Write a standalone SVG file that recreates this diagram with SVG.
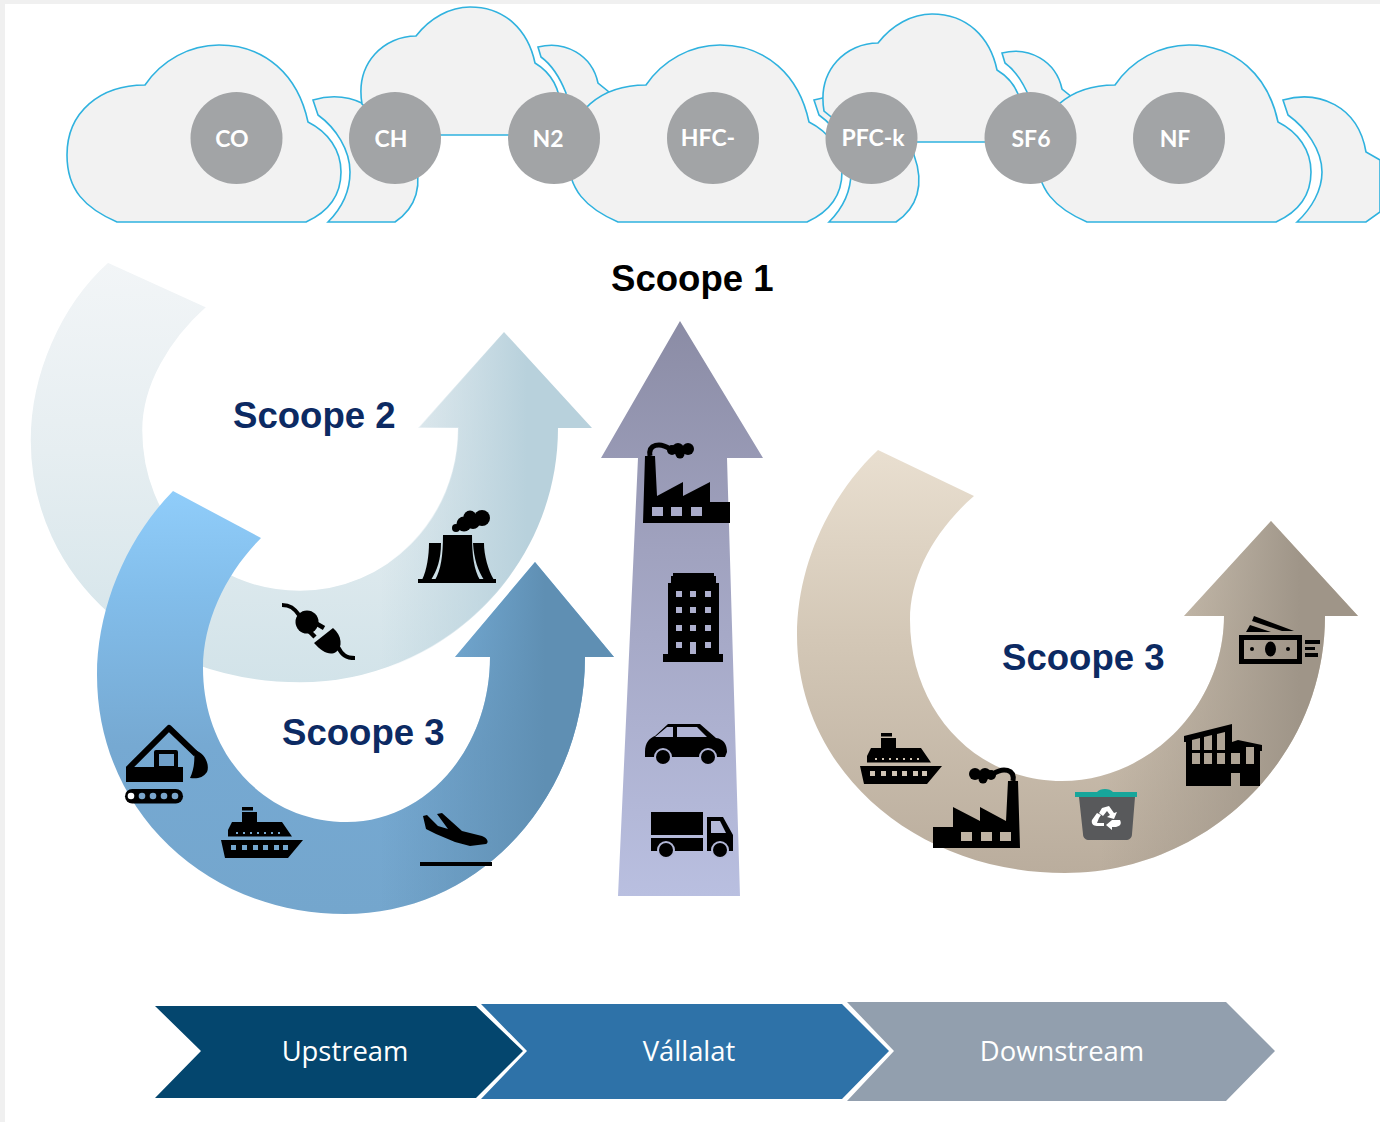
<svg xmlns="http://www.w3.org/2000/svg" width="1380" height="1122" viewBox="0 0 1380 1122">
<style>
.cloud{fill:#f2f2f2;stroke:#2fb2df;stroke-width:1.6}
.gas{fill:#a2a4a6}
.gast{fill:#fff;font:700 23px Lato,"Liberation Sans",sans-serif;text-anchor:middle}
.title{font:700 36.6px "Liberation Sans",Arial,sans-serif;fill:#0c2a63}
.step{fill:#fff;font:400 27.4px "Open Sans","Liberation Sans",sans-serif;text-anchor:middle}
.i{fill:#000}
</style>
<defs>
<path id="bigcloud" d="M117 222C85 208 67 190 67 155C67 112 100 85 145 85C162 60 190 45 219 45C265 45 298 75 308 122C328 132 341 150 341 172C341 195 328 212 306 222Z"/>
<path id="crescent" d="M313 100C330 95 348 96 364 104C395 110 413 135 413 155C424 185 416 208 395 222L328 222C342 208 350 190 350 172C350 150 336 128 318 115Z"/>
<path id="topcloud" d="M362 104C355 62 385 36 416 36C430 18 450 7 470 7C505 7 528 30 535 63C550 72 560 88 561 110L540 135L400 135Z"/>
<path id="crescent2" d="M538 47C565 40 592 55 598 83L609 92L600 135L566 110L566 93C560 78 552 65 541 57Z"/>
<path id="arc2" d="M108 262C60 305 30 375 30 440C30 580 150 683 300 683C440 683 558 570 558 428H592L504 332L418 428H458C458 520 385 590 300 590C210 590 143 520 143 430C143 385 170 340 207 307Z"/>
<path id="arc3a" d="M173 491C125 540 97 610 97 675C97 810 205 914 345 914C478 914 585 800 585 657H614L535 562L455 657H490C490 750 425 822 347 822C265 822 203 755 203 668C203 620 227 572 261 538Z"/>
<path id="arc3b" d="M878 450C830 495 797 565 797 635C797 770 915 873 1065 873C1205 873 1325 760 1325 616H1358L1271 521L1184 616H1224C1224 705 1150 781 1062 781C975 781 910 710 910 620C910 575 935 530 974 496Z"/>
<linearGradient id="g2v" gradientUnits="userSpaceOnUse" x1="0" y1="262" x2="0" y2="683"><stop offset="0" stop-color="#f2f5f7"/><stop offset=".45" stop-color="#e6eef1"/><stop offset="1" stop-color="#d2e3e9"/></linearGradient>
<linearGradient id="g2h" gradientUnits="userSpaceOnUse" x1="380" y1="0" x2="590" y2="0"><stop offset="0" stop-color="#b8d1dc" stop-opacity="0"/><stop offset=".7" stop-color="#b8d1dc"/></linearGradient>
<linearGradient id="g3v" gradientUnits="userSpaceOnUse" x1="0" y1="491" x2="0" y2="914"><stop offset="0" stop-color="#90cdfa"/><stop offset=".25" stop-color="#82bdea"/><stop offset=".6" stop-color="#76a9d2"/><stop offset="1" stop-color="#74a6cd"/></linearGradient>
<linearGradient id="g3h" gradientUnits="userSpaceOnUse" x1="380" y1="0" x2="600" y2="0"><stop offset="0" stop-color="#5f8fb3" stop-opacity="0"/><stop offset=".75" stop-color="#5f8fb3"/></linearGradient>
<linearGradient id="g1" x1="0" y1="0" x2="0" y2="1"><stop offset="0" stop-color="#8b8ca5"/><stop offset=".4" stop-color="#a0a2bf"/><stop offset="1" stop-color="#b9bfe0"/></linearGradient>
<linearGradient id="gbv" gradientUnits="userSpaceOnUse" x1="0" y1="450" x2="0" y2="873"><stop offset="0" stop-color="#e9dfd0"/><stop offset=".45" stop-color="#d3c7b6"/><stop offset="1" stop-color="#baad9d"/></linearGradient>
<linearGradient id="gbh" gradientUnits="userSpaceOnUse" x1="1100" y1="0" x2="1350" y2="0"><stop offset="0" stop-color="#9f9588" stop-opacity="0"/><stop offset=".8" stop-color="#9f9588"/></linearGradient>
<g id="ship">
<path class="i" d="M221 840H303L288 858H225ZM228 836.500H292L282 822H257V812H242V822H232L228 830Z"/>
<rect class="i" x="242" y="807" width="11" height="3.500"/>
<g fill="currentColor"><rect x="231" y="845" width="5" height="5"/><rect x="242" y="845" width="5" height="5"/><rect x="253" y="845" width="5" height="5"/><rect x="263" y="845" width="5" height="5"/><rect x="274" y="845" width="5" height="5"/><rect x="283" y="845" width="5" height="5"/>
<rect x="236" y="832" width="2" height="2"/><rect x="243" y="832" width="2" height="2"/><rect x="250" y="832" width="2" height="2"/><rect x="257" y="832" width="2" height="2"/><rect x="264" y="832" width="2" height="2"/><rect x="271" y="832" width="2" height="2"/><rect x="278" y="832" width="2" height="2"/></g>
</g>
<g id="factory">
<path class="i" d="M643 523L645 456H655L657 496L683 482V496L710 482V502H730V523Z"/>
<path fill="none" stroke="#000" stroke-width="5" d="M650 456C648 444 660 442 670 449"/>
<g class="i"><circle cx="672" cy="450" r="5"/><circle cx="678" cy="449" r="6"/><circle cx="688" cy="449" r="6"/><circle cx="680" cy="454" r="4.500"/></g>
<g fill="currentColor"><rect x="652" y="507" width="11" height="9"/><rect x="671" y="507" width="11" height="9"/><rect x="691" y="507" width="11" height="9"/></g>
</g>
</defs>
<rect width="1380" height="1122" fill="#fff"/>
<path fill="#f0f0f0" d="M0 0H1380V4H5V1122H0Z"/>

<g id="clouds">
<use href="#crescent" class="cloud"/>
<use href="#topcloud" class="cloud"/>
<use href="#bigcloud" class="cloud"/>
<use href="#crescent2" class="cloud"/>
<use href="#crescent" class="cloud" x="501"/>
<use href="#topcloud" class="cloud" x="462" y="7"/>
<use href="#bigcloud" class="cloud" x="501"/>
<use href="#crescent2" class="cloud" x="464" y="6"/>
<path class="cloud" d="M1283 100C1318 90 1358 105 1366 152L1380 160V212L1366 222H1297C1312 208 1322 190 1322 172C1322 150 1306 128 1288 115Z"/>
<use href="#bigcloud" class="cloud" x="970"/>
</g>

<g id="gas-co"><circle class="gas" cx="236.500" cy="138" r="46"/><text class="gast" x="232" y="147">CO</text></g>
<g id="gas-ch"><circle class="gas" cx="395" cy="138" r="46"/><text class="gast" x="391" y="147">CH</text></g>
<g id="gas-n2"><circle class="gas" cx="554" cy="138" r="46"/><text class="gast" x="548" y="147">N2</text></g>
<g id="gas-hfc"><circle class="gas" cx="713" cy="138" r="46"/><text class="gast" x="708" y="146">HFC-</text></g>
<g id="gas-pfc"><circle class="gas" cx="871.500" cy="138" r="46"/><text class="gast" x="873" y="146">PFC-k</text></g>
<g id="gas-sf6"><circle class="gas" cx="1030.500" cy="138" r="46"/><text class="gast" x="1031" y="147">SF6</text></g>
<g id="gas-nf"><circle class="gas" cx="1179" cy="138" r="46"/><text class="gast" x="1175" y="147">NF</text></g>

<g id="scoope2">
<use href="#arc2" fill="url(#g2v)" stroke="#fff" stroke-width="1.500"/>
<use href="#arc2" fill="url(#g2h)"/>
<text class="title" x="233" y="428">Scoope 2</text>
<g id="tower" class="i">
<path d="M443 535H472C472 555 474 570 480 580H435C441 570 443 555 443 535Z"/>
<path d="M429 543H441C441 560 437 570 431 580H422C427 570 429 555 429 543Z"/>
<path d="M473 543H484C484 555 488 570 494 580H484C478 570 474 560 473 543Z"/>
<rect x="418" y="579" width="78" height="4"/>
<circle cx="456" cy="528" r="4"/><circle cx="464" cy="524" r="7.500"/><circle cx="470" cy="517" r="6.500"/><circle cx="473" cy="522" r="7"/><circle cx="482" cy="518" r="8"/>
</g>
<g id="plug">
<path fill="none" stroke="#000" stroke-width="4" d="M282 605C290 605 294 608 299 615M338 647C342 655 346 658 355 658"/>
<circle class="i" cx="307" cy="622" r="11.500"/>
<path fill="none" stroke="#000" stroke-width="4.500" d="M312 621L324 628M306 628L315 637"/>
<path class="i" d="M333 628C342 635 343 648 336 652C330 656 322 652 314 643Z"/>
</g>
</g>

<g id="scoope3a">
<use href="#arc3a" fill="url(#g3v)"/>
<use href="#arc3a" fill="url(#g3h)"/>
<text class="title" x="282" y="745">Scoope 3</text>
<g id="excavator">
<path fill="none" stroke="#000" stroke-width="6" stroke-linejoin="round" d="M128 769L169 728L196 754"/>
<path class="i" d="M126 767H154V752Q154 750 156 750H176Q178 750 178 752V767H183V782H126Z"/>
<rect x="159" y="754" width="15" height="12" fill="#6f9fc8"/>
<path class="i" d="M194 750C205 752 210 765 207 772C203 778 197 779 190 778C194 770 195 760 194 750Z"/>
<rect class="i" x="125" y="789" width="58" height="14.500" rx="7.200"/>
<circle cx="131" cy="796" r="3.300" fill="#fff"/><g fill="#7aa5cb"><circle cx="142" cy="796" r="3.300"/><circle cx="153" cy="796" r="3.300"/><circle cx="164" cy="796" r="3.300"/><circle cx="175" cy="796" r="3.300"/></g>
</g>
<use href="#ship" color="#74a6cd"/>
<g id="plane">
<path class="i" d="M423 816L427 815L438 826L448 829L437 814L442 813L462 831L482 836C488 838 489 843 486 844L470 846L455 842L436 834L426 829Z"/>
<path class="i" d="M420 862H492V866H420Z"/>
</g>
</g>

<g id="scoope1">
<text class="title" style="fill:#000" x="611" y="291">Scoope 1</text>
<path fill="url(#g1)" d="M680 321L763 458H727L740 896H618L638 458H601Z"/>
<use href="#factory" color="#a9abc9"/>
<g id="office">
<path class="i" d="M673 573H714V576H716V583H719V654H723V662H663V654H668V583H671V576H673Z"/>
<g fill="#aeb0ce"><rect x="676" y="591" width="6" height="6"/><rect x="690" y="591" width="6" height="6"/><rect x="705" y="591" width="6" height="6"/><rect x="676" y="607" width="6" height="6"/><rect x="690" y="607" width="6" height="6"/><rect x="705" y="607" width="6" height="6"/><rect x="676" y="625" width="6" height="6"/><rect x="690" y="625" width="6" height="6"/><rect x="705" y="625" width="6" height="6"/><rect x="676" y="642" width="6" height="6"/><rect x="690" y="642" width="6" height="12"/><rect x="705" y="642" width="6" height="6"/></g>
</g>
<g id="car">
<path class="i" d="M645 752C645 742 650 738 655 736L668 724H700L716 738C724 739 727 745 727 752L725 757H645Z"/>
<g fill="#b0b4d4"><path d="M655 737L667 727H673V737ZM677 727H697L707 737H677Z"/><circle cx="663" cy="757" r="9"/><circle cx="708" cy="757" r="9"/></g>
<circle class="i" cx="663" cy="757" r="7"/><circle class="i" cx="708" cy="757" r="7"/>
</g>
<g id="truck">
<path class="i" d="M651 812H703V835H651ZM651 838H703V851H651ZM707 817H723L733 835V851H707Z"/>
<path fill="#b3b8d8" d="M711 821H720L726 833H711Z"/>
<g fill="#b3b8d8"><circle cx="666" cy="850" r="9"/><circle cx="720" cy="850" r="9"/></g>
<circle class="i" cx="666" cy="850" r="7"/><circle class="i" cx="720" cy="850" r="7"/>
</g>
</g>

<g id="scoope3b">
<use href="#arc3b" fill="url(#gbv)"/>
<use href="#arc3b" fill="url(#gbh)"/>
<text class="title" x="1002" y="670">Scoope 3</text>
<use href="#ship" color="#d0c4b4" transform="translate(639,-74)"/>
<use href="#factory" color="#bfb3a3" transform="translate(1663,325) scale(-1,1)"/>
<g id="bin">
<path fill="#58595b" d="M1079 797H1135L1132 834C1132 838 1129 840 1126 840H1089C1086 840 1083 838 1083 834Z"/>
<path fill="#17a69b" d="M1075 792H1097C1100 788 1110 788 1113 792H1137V797H1075Z"/>
<g fill="#fff"><path d="M1102 808L1109 806L1114 813L1117 812L1114 819L1107 817L1110 815L1107 811L1103 816L1099 813Z"/><path d="M1092 820L1097 813L1101 815L1099 818L1097 823L1104 823V826H1097C1093 826 1091 823 1092 820Z"/><path d="M1108 820H1120C1122 824 1120 826 1116 827L1112 827V830L1106 825L1112 820Z"/></g>
</g>
<g id="warehouse">
<path class="i" d="M1184 736L1232 724V742L1238 740L1262 745V751H1260V786H1240V773H1231V786H1186V742L1184 742Z"/>
<g fill="#aea394"><path d="M1192 740L1200 738V750H1192ZM1204 737L1212 735V750H1204ZM1217 734L1225 732V750H1217Z"/><rect x="1192" y="753" width="8" height="11"/><rect x="1204" y="753" width="8" height="11"/><rect x="1217" y="753" width="8" height="11"/><rect x="1231" y="753" width="9" height="11"/><rect x="1246" y="747" width="8" height="17"/></g>
</g>
<g id="money">
<path class="i" d="M1254 616L1294 631H1282L1252 621ZM1246 632L1250 625L1271 632Z"/>
<rect x="1241.500" y="637.500" width="58" height="24" fill="none" stroke="#000" stroke-width="5"/>
<ellipse class="i" cx="1270.500" cy="649" rx="5.500" ry="7.500"/>
<circle class="i" cx="1252" cy="649" r="2"/><circle class="i" cx="1288" cy="649" r="2"/>
<path class="i" d="M1305 640H1320V644H1305ZM1305 647H1315V650H1305ZM1305 653H1318V657H1305Z"/>
</g>
</g>

<g id="steps">
<g id="upstream"><path fill="#04466e" d="M155 1006H476L523 1051L476 1098H155L201 1051Z"/><text class="step" x="345" y="1061">Upstream</text></g>
<g id="vallalat"><path fill="#2e72a8" d="M481 1004H842L889 1051L842 1099H481L527 1051Z"/><text class="step" x="689" y="1061">Vállalat</text></g>
<g id="downstream"><path fill="#929fae" d="M847 1002H1226L1275 1051L1226 1101H847L894 1051Z"/><text class="step" x="1062" y="1061">Downstream</text></g>
</g>
</svg>
